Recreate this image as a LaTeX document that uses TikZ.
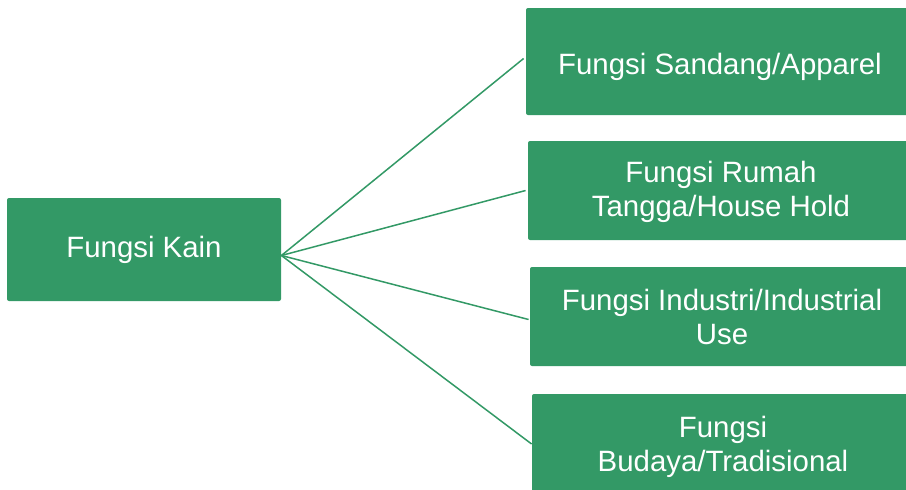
\documentclass[tikz,border=0pt]{standalone}
\usepackage{fontspec}
\setmainfont{Liberation Sans}
\usepackage{tikz}
\usetikzlibrary{positioning}
\definecolor{kaingreen}{RGB}{51,153,102}

\begin{document}
\begin{tikzpicture}[x=0.5pt,y=-0.5pt,
	box/.style={fill=kaingreen,text=white,rounded corners=1pt,align=center,inner sep=0pt,
		font=\fontsize{14.7pt}{17pt}\selectfont},
	link/.style={-,draw=kaingreen,line width=0.75pt}]
	\clip (0,0) rectangle (906,489);
	\node[box,minimum width=137pt,minimum height=51.5pt] (kain) at (144,249.5) {Fungsi Kain};
	
	\node[box,minimum width=194pt,minimum height=53.5pt,text height=12.7pt,text depth=0pt] (sandang) at (720,61.5) {Fungsi Sandang/Apparel};
	\node[box,minimum width=193pt,minimum height=49.5pt,text depth=1.5pt] (rumah) at (721,190.5) {Fungsi Rumah\\Tangga/House Hold};
	\node[box,minimum width=192pt,minimum height=49.5pt,text depth=-3pt] (industri) at (722,316.5) {Fungsi Industri/Industrial\\Use};
	\node[box,minimum width=191pt,minimum height=50pt,text depth=0pt] (budaya) at (723,444) {Fungsi\\Budaya/Tradisional};
	
	\draw[link] ([yshift=-3pt]kain.east) -- ([xshift=-1pt,yshift=1.5pt]sandang.west);
	\draw[link] ([yshift=-3pt]kain.east) -- ([xshift=-1pt]rumah.west);
	\draw[link] ([yshift=-3pt]kain.east) -- ([xshift=-0.5pt,yshift=-1.5pt]industri.west);
	\draw[link] ([yshift=-3pt]kain.east) -- (budaya.west);
\end{tikzpicture}
\end{document}
